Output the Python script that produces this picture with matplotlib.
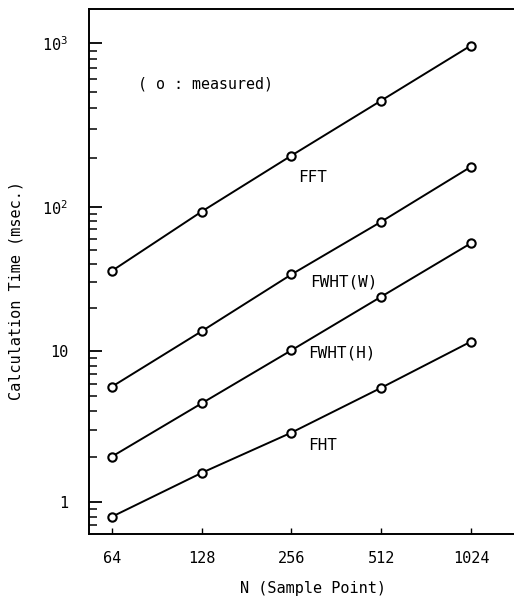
import numpy as np
import matplotlib
matplotlib.use("Agg")
from matplotlib import pyplot as plt
from matplotlib.ticker import FixedLocator, FuncFormatter, NullLocator

## Data ##
sizes = [64, 128, 256, 512, 1024]
fft = [36, 93, 206, 446, 967]
fwht_w = [5.8, 13.7, 34, 79, 176]
fwht_h = [2.0, 4.5, 10.1, 23.8, 56]
fht = [0.80, 1.56, 2.88, 5.7, 11.6]

curve_names = ["FFT", "FWHT(W)", "FWHT(H)", "FHT"]
# where the curve names sit (N, msec)
name_spots = [(270, 152), (295, 30), (291, 9.7), (291, 2.37)]

# the original log axis is hand drawn, decades are not evenly spaced
# -> piecewise calibration of log10(t) against height
decades = [-1, 0, 1, 2, 3, 4]
decade_h = [-652.7, -501.7, -350.7, -207.0, -43.3, 120.4]


def fwd(v):
    return np.interp(np.log10(np.clip(v, 1e-9, None)), decades, decade_h)


def inv(h):
    return 10 ** np.interp(h, decade_h, decades)


plt.rcParams["font.family"] = "DejaVu Sans Mono"
plt.rcParams["mathtext.fontset"] = "custom"
plt.rcParams["mathtext.rm"] = "DejaVu Sans Mono"

fig = plt.figure(figsize=(5.14, 5.97), dpi=100)
ax = fig.add_axes([0.1732, 0.1047, 0.8268, 0.8806])

for vals in [fft, fwht_w, fwht_h, fht]:
    ax.plot(sizes, vals, "-o", color="black", lw=1.4, ms=6, mew=1.5,
            mfc="white", mec="black")

for name, (xx, yy) in zip(curve_names, name_spots):
    ax.text(xx, yy, name, ha="left", va="center", fontsize=11.5)

ax.text(78, 564, "( o : measured)", ha="left", va="center", fontsize=10.8)

ax.set_xscale("log", base=2)
ax.set_yscale("function", functions=(fwd, inv))
ax.set_xlim(53.6, 1428)
ax.set_ylim(0.61, 1620)

ax.xaxis.set_major_locator(FixedLocator(sizes))
ax.xaxis.set_minor_locator(NullLocator())
ax.xaxis.set_major_formatter(FuncFormatter(lambda v, p: f"{int(round(v))}"))

ylabs = {1: "1", 10: "10", 100: r"$\mathregular{10^2}$", 1000: r"$\mathregular{10^3}$"}
ax.yaxis.set_major_locator(FixedLocator([1, 10, 100, 1000]))
minors = [m * d for d in [0.1, 1, 10, 100] for m in range(2, 10) if 0.61 < m * d < 1000]
ax.yaxis.set_minor_locator(FixedLocator(minors))
ax.yaxis.set_major_formatter(FuncFormatter(lambda v, p: ylabs.get(int(round(v)), "")))

ax.tick_params(axis="y", which="major", direction="in", length=9.5, width=1.3,
               pad=15, labelsize=11)
ax.tick_params(axis="y", which="minor", direction="in", length=5.5, width=1.1)
ax.tick_params(axis="x", which="major", direction="in", length=4.5, width=1.0,
               pad=12, labelsize=11)

ax.spines["right"].set_visible(False)
for s in ["left", "bottom", "top"]:
    ax.spines[s].set_linewidth(1.4)

ax.set_xlabel("N (Sample Point)", fontsize=11)
ax.xaxis.set_label_coords(0.527, -0.089)
ax.set_ylabel("Calculation Time (msec.)", fontsize=11)
ax.yaxis.set_label_coords(-0.155, 0.465)

fig.savefig("out.png", dpi=100)
